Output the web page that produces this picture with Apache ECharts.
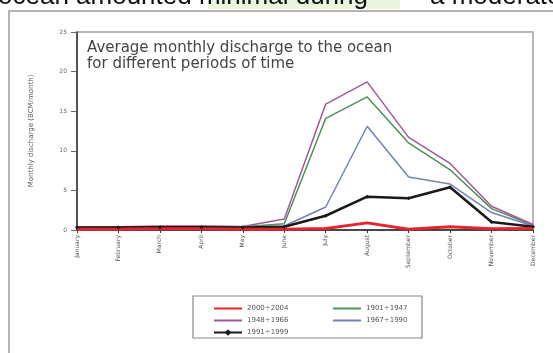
<!DOCTYPE html>
<html>
<head>
<meta charset="utf-8">
<script src="https://cdn.jsdelivr.net/npm/echarts@6/dist/echarts.min.js"></script>
<style>html,body{margin:0;padding:0;background:#fff;}#c{width:553px;height:353px;}</style>
</head>
<body>
<div id="c"></div>
<script>
const months = ['January','February','March','April','May','June','July','August','September','October','November','December'];
const yTicks = [0,5,10,15,20,25];
const s2000 = [0.1,0.1,0.15,0.15,0.1,0.1,0.2,0.9,0.1,0.4,0.15,0.2];
const s1901 = [0.3,0.35,0.4,0.45,0.4,0.8,14.1,16.8,11.0,7.6,2.7,0.6];
const s1948 = [0.35,0.4,0.5,0.5,0.45,1.4,15.9,18.7,11.7,8.4,3.0,0.7];
const s1967 = [0.3,0.35,0.4,0.4,0.4,0.5,2.9,13.1,6.7,5.8,2.2,0.5];
const s1991 = [0.3,0.3,0.35,0.35,0.3,0.4,1.8,4.2,4.0,5.4,1.0,0.4];
const names = ['2000÷2004','1901÷1947','1948÷1966','1967÷1990','1991÷1999'];
const topTextA = 'ocean amounted minimal during';
const topTextB = 'a moderate';
const chartTitle = 'Average monthly discharge to the ocean\nfor different periods of time';

const chart = echarts.init(document.getElementById('c'), null, {renderer:'canvas'});
function line(name, data, color, width, extra) {
  return Object.assign({
    name, type:'line', data, symbol:'none', showSymbol:false,
    lineStyle:{color, width}, itemStyle:{color}, animation:false
  }, extra || {});
}
const noSym = n => ({name:n, itemStyle:{opacity:0}});
chart.setOption({
  animation:false,
  backgroundColor:'#fff',
  grid:{left:77, right:20, top:32, bottom:123, show:true, borderColor:'#a0a0a0', borderWidth:1.5},
  xAxis:{
    type:'category', data:months, boundaryGap:false,
    axisLine:{lineStyle:{color:'#222', width:1.5}},
    axisTick:{show:true, length:3, inside:false, lineStyle:{color:'#333'}},
    axisLabel:{rotate:90, fontSize:6, color:'#555', margin:5, fontFamily:'DejaVu Sans'}
  },
  yAxis:{
    type:'value', min:yTicks[0], max:yTicks[yTicks.length-1], interval:5,
    name:'Monthly discharge (BCM/month)', nameLocation:'middle', nameGap:42, nameRotate:90,
    nameTextStyle:{fontSize:7, color:'#555', fontFamily:'DejaVu Sans'},
    splitLine:{show:false},
    axisLine:{show:true, lineStyle:{color:'#333', width:1.5}},
    axisTick:{show:true, length:6, lineStyle:{color:'#666'}},
    axisLabel:{fontSize:6, color:'#666', margin:10, fontFamily:'DejaVu Sans'}
  },
  legend:[
    {left:208, top:300, orient:'vertical', itemWidth:28, itemHeight:8, itemGap:5,
     data:[noSym(names[0]), noSym(names[2]), names[4]],
     textStyle:{fontSize:7, color:'#555', fontFamily:'DejaVu Sans'}},
    {left:327, top:300, orient:'vertical', itemWidth:28, itemHeight:8, itemGap:5,
     data:[noSym(names[1]), noSym(names[3])],
     textStyle:{fontSize:7, color:'#555', fontFamily:'DejaVu Sans'}}
  ],
  graphic:[
    {type:'rect', shape:{x:208, y:0, width:192, height:9}, style:{fill:'#eaf5df'}, silent:true, z:-1},
    {type:'text', x:-2, y:-16, style:{text:topTextA, font:'26px "Liberation Sans"', fill:'#111'}, silent:true},
    {type:'text', x:430, y:-16, style:{text:topTextB, font:'26px "Liberation Sans"', fill:'#111'}, silent:true},
    {type:'polyline', shape:{points:[[9,353],[9,11],[553,11]]}, style:{stroke:'#b4b4b4', lineWidth:2, fill:null}, silent:true},
    {type:'rect', shape:{x:193, y:296, width:229, height:42}, style:{stroke:'#888', lineWidth:1.2, fill:null}, silent:true},
    {type:'text', x:87, y:40, style:{text:chartTitle, font:'15px "DejaVu Sans"', fill:'#444', lineHeight:16}, silent:true}
  ],
  series:[
    line(names[1], s1901, '#4c9158', 1.5),
    line(names[2], s1948, '#a05898', 1.5),
    line(names[3], s1967, '#7283b4', 1.5),
    line(names[4], s1991, '#1a1a1a', 2.5, {symbol:'diamond', symbolSize:4, showSymbol:true}),
    line(names[0], s2000, '#e4252d', 3)
  ]
});
</script>
</body>
</html>
